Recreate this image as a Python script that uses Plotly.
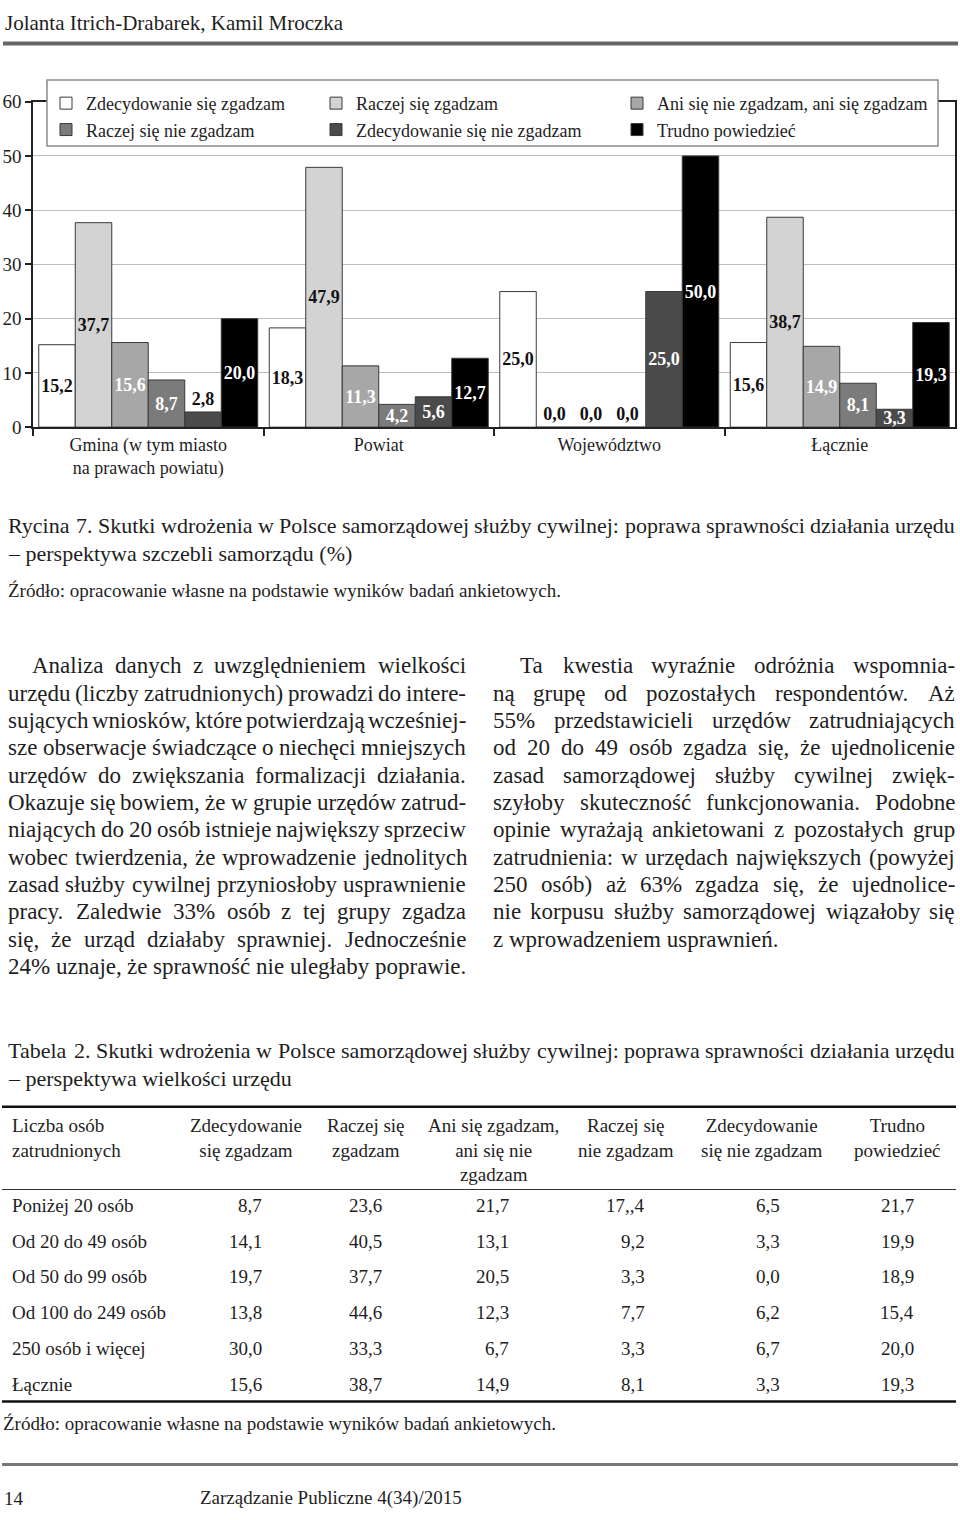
import plotly.graph_objects as go

W, H = 960, 1520
FONT = "Liberation Serif"
INK = "#1e1e1e"

# ---------------- chart data ----------------
categories = ["Gmina (w tym miasto<br>na prawach powiatu)", "Powiat", "Województwo", "Łącznie"]
series_names = [
    "Zdecydowanie się zgadzam",
    "Raczej się zgadzam",
    "Ani się nie zgadzam, ani się zgadzam",
    "Raczej się nie zgadzam",
    "Zdecydowanie się nie zgadzam",
    "Trudno powiedzieć",
]
zdecydowanie_zgadzam = [15.2, 18.3, 25.0, 15.6]
raczej_zgadzam = [37.7, 47.9, 0.0, 38.7]
ani_ani = [15.6, 11.3, 0.0, 14.9]
raczej_nie = [8.7, 4.2, 0.0, 8.1]
zdecydowanie_nie = [2.8, 5.6, 25.0, 3.3]
trudno = [20.0, 12.7, 50.0, 19.3]
series_values = [zdecydowanie_zgadzam, raczej_zgadzam, ani_ani, raczej_nie, zdecydowanie_nie, trudno]
series_colors = ["#ffffff", "#d3d3d3", "#a7a7a7", "#7b7b7b", "#4b4b4b", "#000000"]
dark_label = [True, True, False, False, False, False]
legend_ids = ["legend", "legend2", "legend3", "legend", "legend2", "legend3"]

# ---------------- page text ----------------
header_text = "Jolanta Itrich-Drabarek, Kamil Mroczka"
figure_caption = [
    "Rycina 7. Skutki wdrożenia w Polsce samorządowej służby cywilnej: poprawa sprawności działania urzędu",
    "– perspektywa szczebli samorządu (%)",
]
source_text = "Źródło: opracowanie własne na podstawie wyników badań ankietowych."
left_column = [
    "Analiza danych z uwzględnieniem wielkości",
    "urzędu (liczby zatrudnionych) prowadzi do intere-",
    "sujących wniosków, które potwierdzają wcześniej-",
    "sze obserwacje świadczące o niechęci mniejszych",
    "urzędów do zwiększania formalizacji działania.",
    "Okazuje się bowiem, że w grupie urzędów zatrud-",
    "niających do 20 osób istnieje największy sprzeciw",
    "wobec twierdzenia, że wprowadzenie jednolitych",
    "zasad służby cywilnej przyniosłoby usprawnienie",
    "pracy. Zaledwie 33% osób z tej grupy zgadza",
    "się, że urząd działaby sprawniej. Jednocześnie",
    "24% uznaje, że sprawność nie uległaby poprawie.",
]
right_column = [
    "Ta kwestia wyraźnie odróżnia wspomnia-",
    "ną grupę od pozostałych respondentów. Aż",
    "55% przedstawicieli urzędów zatrudniających",
    "od 20 do 49 osób zgadza się, że ujednolicenie",
    "zasad samorządowej służby cywilnej zwięk-",
    "szyłoby skuteczność funkcjonowania. Podobne",
    "opinie wyrażają ankietowani z pozostałych grup",
    "zatrudnienia: w urzędach największych (powyżej",
    "250 osób) aż 63% zgadza się, że ujednolice-",
    "nie korpusu służby samorządowej wiązałoby się",
    "z wprowadzeniem usprawnień.",
]
table_caption = [
    "Tabela 2. Skutki wdrożenia w Polsce samorządowej służby cywilnej: poprawa sprawności działania urzędu",
    "– perspektywa wielkości urzędu",
]
table_first_header = "Liczba osób<br>zatrudnionych"
table_headers = [
    "Zdecydowanie<br>się zgadzam",
    "Raczej się<br>zgadzam",
    "Ani się zgadzam,<br>ani się nie<br>zgadzam",
    "Raczej się<br>nie zgadzam",
    "Zdecydowanie<br>się nie zgadzam",
    "Trudno<br>powiedzieć",
]
table_rows = ["Poniżej 20 osób", "Od 20 do 49 osób", "Od 50 do 99 osób",
              "Od 100 do 249 osób", "250 osób i więcej", "Łącznie"]
table_values = [
    ["8,7", "23,6", "21,7", "17,,4", "6,5", "21,7"],
    ["14,1", "40,5", "13,1", "9,2", "3,3", "19,9"],
    ["19,7", "37,7", "20,5", "3,3", "0,0", "18,9"],
    ["13,8", "44,6", "12,3", "7,7", "6,2", "15,4"],
    ["30,0", "33,3", "6,7", "3,3", "6,7", "20,0"],
    ["15,6", "38,7", "14,9", "8,1", "3,3", "19,3"],
]
footer_page = "14"
footer_journal = "Zarządzanie Publiczne 4(34)/2015"

# ---------------- helpers ----------------
TW = {}
TW.update(dict(zip("abcdefghijklmnopqrstuvwxyz",
                   [444, 500, 444, 500, 444, 333, 500, 500, 278, 278, 500, 278, 778,
                    500, 500, 500, 500, 333, 389, 278, 500, 500, 722, 500, 500, 444])))
TW.update(dict(zip("ABCDEFGHIJKLMNOPQRSTUVWXYZ",
                   [722, 667, 667, 722, 611, 556, 722, 722, 333, 389, 722, 611, 889,
                    722, 722, 556, 722, 667, 556, 611, 722, 722, 944, 722, 722, 611])))
TW.update({d: 500 for d in "0123456789"})
TW.update({" ": 250, ",": 250, ".": 250, ":": 278, ";": 278, "-": 333, "–": 500,
           "(": 333, ")": 333, "%": 833, "/": 278})
TW.update({"ą": 444, "ć": 444, "ę": 444, "ł": 278, "ń": 500, "ó": 500, "ś": 389,
           "ź": 444, "ż": 444, "Ł": 611, "Ś": 556, "Ź": 611, "Ż": 611, "Ć": 667})


def text_w(s, size):
    return sum(TW.get(c, 500) for c in s) * size / 1000.0


fig = go.Figure()


def add_text(text, x, y, size, xanchor="left", yanchor="middle", align="left", color=INK):
    fig.add_annotation(text=text, x=x / W, y=1 - y / H, xref="paper", yref="paper",
                       xanchor=xanchor, yanchor=yanchor, align=align, showarrow=False,
                       font=dict(family=FONT, size=size, color=color),
                       borderpad=0, borderwidth=0)


def add_justified(line, x0, x1, y, size, justify=True):
    words = line.split(" ")
    if not justify or len(words) < 2:
        add_text(line, x0, y, size)
        return
    widths = [text_w(w, size) for w in words]
    gap = (x1 - x0 - sum(widths)) / (len(words) - 1)
    x = x0
    for w, wd in zip(words, widths):
        add_text(w, x, y, size)
        x += wd + gap


def hline(y, x0, x1, width, color):
    fig.add_shape(type="line", xref="paper", yref="paper",
                  x0=x0 / W, x1=x1 / W, y0=1 - y / H, y1=1 - y / H,
                  line=dict(color=color, width=width))


# ---------------- bars ----------------
for i, (name, vals, col, dark, lg) in enumerate(
        zip(series_names, series_values, series_colors, dark_label, legend_ids)):
    pos = ["outside" if v < 3 else "inside" for v in vals]
    tcol = ["#111111" if (dark or p == "outside") else "#ffffff" for p in pos]
    fig.add_trace(go.Bar(
        x=categories, y=vals, name=name, legend=lg, legendgroup=f"g{i}",
        marker=dict(color=col, line=dict(color="#3a3a3a", width=1)),
        text=[f"{v:.1f}".replace(".", ",") for v in vals],
        textposition=pos, insidetextanchor="middle", textangle=0,
        constraintext="none", cliponaxis=False,
        textfont=dict(family=FONT, size=18, color=tcol, weight="bold"),
        hoverinfo="skip",
    ))

legend_style = dict(orientation="v", yanchor="top", xanchor="left",
                    bgcolor="rgba(0,0,0,0)", borderwidth=0, tracegroupgap=3,
                    font=dict(family=FONT, size=18, color=INK), traceorder="normal")

fig.update_layout(
    width=W, height=H, autosize=False,
    margin=dict(l=0, r=0, t=0, b=0, pad=0),
    paper_bgcolor="white", plot_bgcolor="white",
    barmode="group", bargap=0.05, bargroupgap=0,
    showlegend=True,
    xaxis=dict(domain=[33 / W, 955 / W], type="category", showline=True, linecolor="#222",
               linewidth=1.5, mirror=True, ticks="outside", tickson="boundaries",
               ticklen=7, tickcolor="#222", tickwidth=1.5, showgrid=False,
               tickfont=dict(family=FONT, size=18, color=INK)),
    yaxis=dict(domain=[1 - 423 / H, 1 - 93 / H], range=[0, 60], dtick=10, tick0=0,
               showline=True, linecolor="#222", linewidth=1.5, mirror=True,
               ticks="outside", ticklen=6, tickcolor="#222", tickwidth=1.5,
               showgrid=True, gridcolor="#bdbdbd", gridwidth=1.2, zeroline=False,
               tickfont=dict(family=FONT, size=19, color=INK)),
    legend=dict(x=46 / W, y=1 - 76 / H, **legend_style),
    legend2=dict(x=316 / W, y=1 - 76 / H, **legend_style),
    legend3=dict(x=617 / W, y=1 - 76 / H, **legend_style),
)

# legend frame
fig.add_shape(type="rect", xref="paper", yref="paper", layer="above",
              x0=47 / W, x1=938 / W, y0=1 - 138 / H, y1=1 - 71 / H,
              fillcolor="white", line=dict(color="#8a8a8a", width=1.5))

# ---------------- page furniture ----------------
add_text(header_text, 5, 13, 21)
hline(34, 3, 958, 4, "#666666")

add_justified(figure_caption[0], 8, 955, 523, 22)
add_text(figure_caption[1], 8, 551, 22)
add_text(source_text, 8, 589, 19)

line_step = 27.73
for i, line in enumerate(left_column):
    x0 = 32 if i == 0 else 8
    add_justified(line, x0, 466, 665 + i * line_step, 23)
for i, line in enumerate(right_column):
    x0 = 520 if i == 0 else 493
    add_justified(line, x0, 955, 665 + i * line_step, 23, justify=(i < len(right_column) - 1))

add_justified(table_caption[0], 8, 955, 1055, 22)
add_text(table_caption[1], 8, 1083, 22)

hline(1112, 2, 956, 2.5, "#111111")
hline(1196, 2, 956, 1.2, "#333333")
hline(1411, 2, 956, 2.5, "#111111")

col_centers = [246, 366, 494, 626, 762, 897]
col_rights = [262, 382, 509, 645, 780, 914]
add_text(table_first_header, 12, 1120, 19, yanchor="top")
for c, hdr in zip(col_centers, table_headers):
    add_text(hdr, c, 1120, 19, xanchor="center", yanchor="top", align="center")
row_y0, row_step = 1212, 36.3
for r, (lab, vals) in enumerate(zip(table_rows, table_values)):
    y = row_y0 + r * row_step
    add_text(lab, 12, y, 19)
    for xr, v in zip(col_rights, vals):
        add_text(v, xr, y, 19, xanchor="right", align="right")

add_text(source_text, 3, 1433, 19)
hline(1475, 2, 958, 3, "#777777")
add_text(footer_page, 4, 1509, 19)
add_text(footer_journal, 200, 1509, 19)

fig.write_html("out.html",
               config={"displayModeBar": False},
               post_script="document.body.style.margin='0px';document.body.style.overflow='hidden';")
